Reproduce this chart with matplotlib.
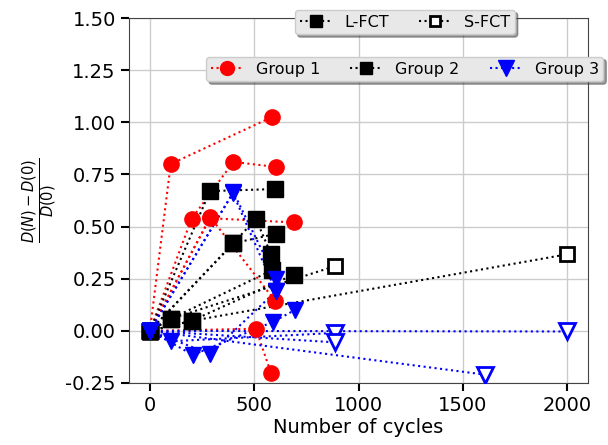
import numpy as np
import matplotlib
matplotlib.use("Agg")
import matplotlib.pyplot as plt
from matplotlib.lines import Line2D

# Group 1 (red), L-FCT samples: cycles and relative change
g1_N = [[0, 100, 585], [0, 200, 400, 604], [0, 288, 690], [0, 290, 600], [0, 508, 580]]
g1_D = [[0, 0.80, 1.025], [0, 0.537, 0.81, 0.786], [0, 0.54, 0.52], [0, 0.545, 0.144], [0, 0.01, -0.20]]

# Group 2 (black), L-FCT samples
g2_N = [[0, 288, 600], [0, 400, 508, 580], [0, 400, 604], [0, 100, 585], [0, 200, 690]]
g2_D = [[0, 0.67, 0.68], [0, 0.42, 0.537, 0.37], [0, 0.42, 0.465], [0, 0.058, 0.29], [0, 0.048, 0.27]]
# Group 2, samples ending with S-FCT (last point)
g2s_N = [[0, 100, 887], [0, 200, 2000]]
g2s_D = [[0, 0.058, 0.31], [0, 0.048, 0.367]]

# Group 3 (blue), L-FCT samples
g3_N = [[0, 400, 604], [0, 398, 604], [0, 206, 590, 695], [0, 288, 604]]
g3_D = [[0, 0.665, 0.25], [0, 0.66, 0.19], [0, -0.115, 0.043, 0.10], [0, -0.11, 0.19]]
# Group 3, samples ending with S-FCT (last point)
g3s_N = [[0, 100, 887], [0, 887], [0, 2000], [0, 1607]]
g3s_D = [[0, -0.05, -0.01], [0, -0.055], [0, -0.003], [0, -0.21]]

fig = plt.figure(figsize=(6.08, 4.45), dpi=100)
ax = fig.add_axes([129 / 608, 1 - 383 / 445, 459 / 608, 365 / 445])

ms = {"o": 11, "s": 11, "v": 12}


def draw(Ns, Ds, color, marker, open_last=False):
    for n, d in zip(Ns, Ds):
        ax.plot(n, d, ls=":", lw=1.5, color=color, zorder=2)
        if open_last:
            ax.plot(n[:-1], d[:-1], ls="none", marker=marker, ms=ms[marker],
                    color=color, zorder=3)
            ax.plot(n[-1:], d[-1:], ls="none", marker=marker, ms=ms[marker] - 1,
                    mfc="white", mec=color, mew=2, zorder=3)
        else:
            ax.plot(n, d, ls="none", marker=marker, ms=ms[marker], color=color, zorder=3)


draw(g1_N, g1_D, "red", "o")
draw(g2_N, g2_D, "black", "s")
draw(g2s_N, g2s_D, "black", "s", open_last=True)
draw(g3_N, g3_D, "blue", "v")
draw(g3s_N, g3s_D, "blue", "v", open_last=True)

ax.set_xlim(-100, 2100)
ax.set_ylim(-0.25, 1.5)
ax.set_xticks([0, 500, 1000, 1500, 2000])
ax.set_yticks(np.arange(-0.25, 1.51, 0.25))
ax.yaxis.set_major_formatter(matplotlib.ticker.FormatStrFormatter("%.2f"))
ax.grid(True, color="#cccccc", lw=1)
ax.set_axisbelow(True)
ax.tick_params(labelsize=14, length=6, width=1.5, color="black")
for s in ax.spines.values():
    s.set_color("#444444")
ax.set_xlabel("Number of cycles", fontsize=14, labelpad=2)
ax.set_ylabel(r"$\frac{D(N)-D(0)}{D(0)}$", fontsize=15)

leg_kw = dict(fontsize=11.5, fancybox=True, shadow=True, facecolor="#e8e8e8",
              edgecolor="#cccccc", framealpha=1, handlelength=2.0,
              borderpad=0.3, columnspacing=1.9, handletextpad=0.8)

h1 = [Line2D([], [], ls=":", color="black", marker="s", ms=9),
      Line2D([], [], ls=":", color="black", marker="s", ms=7, mfc="white", mew=2)]
leg1 = ax.legend(h1, ["L-FCT", "S-FCT"], ncol=2, loc="center",
                 bbox_to_anchor=(0.601, 0.989), **leg_kw)
ax.add_artist(leg1)

h2 = [Line2D([], [], ls=":", color="red", marker="o", ms=10),
      Line2D([], [], ls=":", color="black", marker="s", ms=9),
      Line2D([], [], ls=":", color="blue", marker="v", ms=11)]
leg2 = ax.legend(h2, ["Group 1", "Group 2", "Group 3"], ncol=3, loc="center",
                 bbox_to_anchor=(0.601, 0.860), **leg_kw)
leg1.set_zorder(5)
leg2.set_zorder(5)

fig.savefig("out.png", dpi=100)
